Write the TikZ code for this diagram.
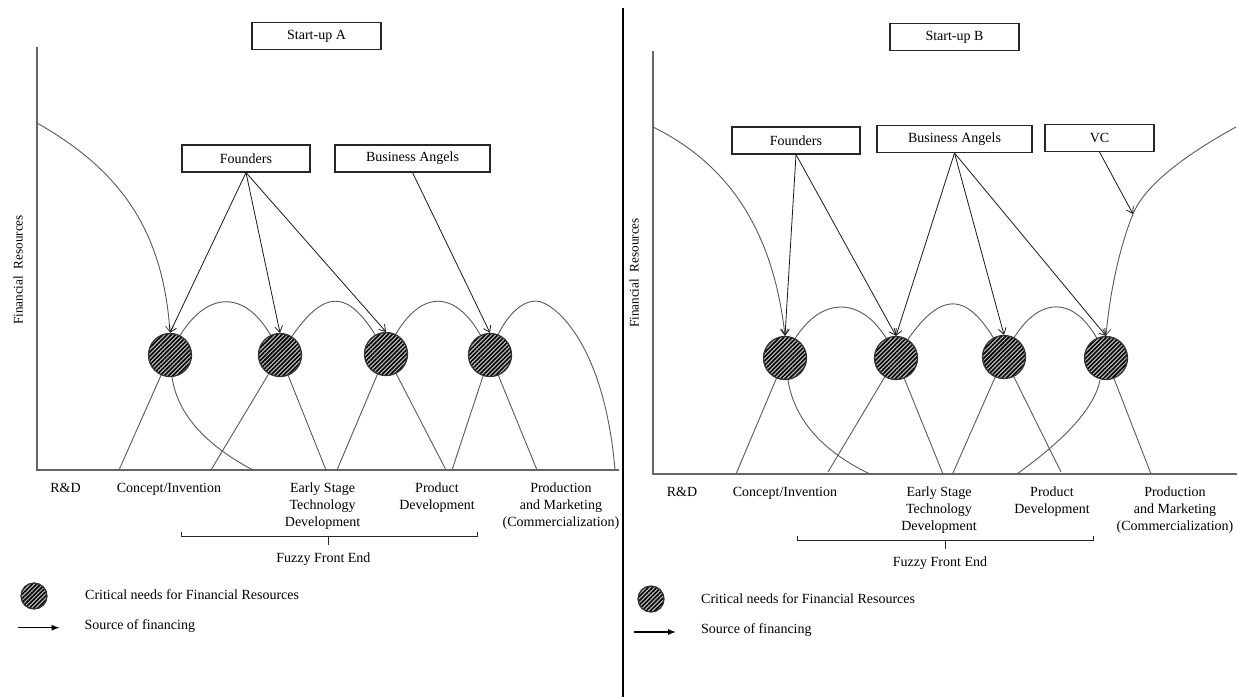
\documentclass[tikz,border=0pt]{standalone}
\usepackage{fontspec}
\setmainfont{Liberation Serif}
\usetikzlibrary{arrows.meta,patterns.meta}
\begin{document}
\begin{tikzpicture}[x=1pt,y=-1pt,
  every node/.style={font=\fontsize{14}{17}\selectfont},
  box/.style={draw=black!85, line width=1.1pt, inner sep=0pt, minimum height=27pt},
  need/.style={circle, draw=black!80, line width=1.3pt, inner sep=0pt, minimum size=43pt,
    preaction={fill=black!25}, pattern={Lines[angle=45,distance=3pt,line width=1.6pt]}},
  smallneed/.style={need, minimum size=26pt},
  curve/.style={draw=black!65, line width=0.9pt},
  src/.style={draw=black!90, line width=0.8pt, -{Straight Barb[length=6pt,width=8pt]}},
  curvesrc/.style={curve, -{Straight Barb[length=6pt,width=8pt]}},
  axis/.style={draw=black!60, line width=1.3pt},
  lbl/.style={anchor=north, inner sep=0pt, align=center},
  legtext/.style={anchor=west, inner sep=0pt},
  legarrow/.style={draw=black, line width=1.2pt, -{Latex[length=8pt,width=6pt]}},
  ylab/.style={rotate=90, inner sep=0pt, font=\fontsize{13.2}{16}\selectfont},
]
\useasboundingbox (0,0) rectangle (1237,697);

% divider
\coordinate (dtop) at (623,8);
\coordinate (dbot) at (623,697);
\draw[black, line width=1.5pt] (dtop) -- (dbot);

% ================= LEFT PANEL =================
\coordinate (oA) at (37,470);
\coordinate (yA) at (37,47);
\coordinate (xA) at (619,470);
\draw[axis] (yA) -- (oA) -- (xA);

\node[box, minimum width=129pt] (startA) at (316.5,36) {Start-up A};
\node[box, minimum width=128pt] (foundA) at (246,158.5) {Founders};
\node[box, minimum width=155pt] (angelsA) at (412.5,158.5) {Business Angels};
\node[ylab] (finA) at (18,270) {Financial\ \ Resources};

% curves (drawn beneath circles)
\draw[curve] (119,470) -- (170,355) .. controls (201,284) and (252,284) .. (280,355) -- (326,470);
\draw[curve] (211,470) -- (280,355) .. controls (322.6,284) and (349,283) .. (386,354) -- (446,470);
\draw[curve] (337,470) -- (386,354) .. controls (416,283) and (461,284) .. (490,355) -- (537,470);
\draw[curve] (452,470) -- (490,355) .. controls (503,315) and (522,301) .. (536,301)
   .. controls (552,301) and (604,340) .. (615,470);
\draw[curve] (172,377) .. controls (178,420) and (215,450) .. (253,470);

\node[need] (cA1) at (170,355) {};
\node[need] (cA2) at (280,355) {};
\node[need] (cA3) at (386,354) {};
\node[need] (cA4) at (490,355) {};

\draw[curvesrc] (37,123) .. controls (120,170) and (163,230) .. (cA1.north);
\draw[src] (foundA.south) -- (cA1.north);
\draw[src] (foundA.south) -- (cA2.north);
\draw[src] (foundA.south) -- (cA3.north);
\draw[src] (angelsA.south) -- (cA4.north);

% labels
\node[lbl] (rdA) at (65.5,483) {R\&D};
\node[lbl] (conceptA) at (169,483) {Concept/Invention};
\node[lbl] (earlyA) at (322.6,483) {Early Stage\\Technology\\Development};
\node[lbl] (prodA) at (437,483) {Product\\Development};
\node[lbl] (commA) at (561,483) {Production\\and Marketing\\(Commercialization)};
\coordinate (bA1) at (181,532);
\coordinate (bA2) at (181,536.5);
\coordinate (bA3) at (477,536.5);
\coordinate (bA4) at (477,532);
\coordinate (bAm) at (328.6,536.5);
\coordinate (bAt) at (328.6,545);
\draw[black!85, line width=1pt] (bA1) -- (bA2) -- (bA3) -- (bA4);
\draw[black!85, line width=1pt] (bAm) -- (bAt);
\node[lbl] (fuzzyA) at (323.4,553) {Fuzzy Front End};

% legend
\node[smallneed] (legcA) at (34,596) {};
\node[legtext] (legtA) at (85,595) {Critical needs for Financial Resources};
\coordinate (laA1) at (18,627.7);
\coordinate (laA2) at (59.5,627.7);
\draw[legarrow] (laA1) -- (laA2);
\node[legtext] (legsA) at (84.4,626) {Source of financing};

% ================= RIGHT PANEL =================
\coordinate (oB) at (653,474);
\coordinate (yB) at (653,51);
\coordinate (xB) at (1237,474);
\draw[axis] (yB) -- (oB) -- (xB);

\node[box, minimum width=129pt] (startB) at (954.5,37) {Start-up B};
\node[box, minimum width=128pt] (foundB) at (796,140.5) {Founders};
\node[box, minimum width=155pt] (angelsB) at (954.5,139) {Business Angels};
\node[box, minimum width=109pt] (vcB) at (1099.5,138) {VC};
\node[ylab] (finB) at (634,273) {Financial\ \ Resources};

\draw[curve] (736,474) -- (785,358) .. controls (814,290) and (868.5,290) .. (896,358) -- (943,474);
\draw[curve] (828,472) -- (896,358) .. controls (939,286) and (968,286) .. (1004,357) -- (1061,472);
\draw[curve] (952.5,474) -- (1004,357) .. controls (1033.5,290) and (1080,290) .. (1106,358) -- (1151,474);
\draw[curve] (788,380) .. controls (795,425) and (830,455) .. (870,474);
\draw[curve] (1100,380) .. controls (1093,415) and (1050,450) .. (1017,474);

\node[need] (cB1) at (785,358) {};
\node[need] (cB2) at (896,358) {};
\node[need] (cB3) at (1004,357) {};
\node[need] (cB4) at (1106,358) {};

\coordinate (vchit) at (1133,214);
\draw[curvesrc] (653,127) .. controls (720,160) and (772,220) .. (cB1.north);
\draw[curve] (1236,127) .. controls (1185,155) and (1145,185) .. (vchit);
\draw[curvesrc] (vchit) .. controls (1120.6,244) and (1110,290) .. (cB4.north);
\draw[src] (foundB.south) -- (cB1.north);
\draw[src] (foundB.south) -- (cB2.north);
\draw[src] (angelsB.south) -- (cB2.north);
\draw[src] (angelsB.south) -- (cB3.north);
\draw[src] (angelsB.south) -- (cB4.north);
\draw[src] (vcB.south) -- (vchit);

\node[lbl] (rdB) at (682,487) {R\&D};
\node[lbl] (conceptB) at (785,487) {Concept/Invention};
\node[lbl] (earlyB) at (939,487) {Early Stage\\Technology\\Development};
\node[lbl] (prodB) at (1052,487) {Product\\Development};
\node[lbl] (commB) at (1175,487) {Production\\and Marketing\\(Commercialization)};
\coordinate (bB1) at (797,536);
\coordinate (bB2) at (797,540);
\coordinate (bB3) at (1093,540);
\coordinate (bB4) at (1093,536);
\coordinate (bBm) at (945,540);
\coordinate (bBt) at (945,549);
\draw[black!85, line width=1pt] (bB1) -- (bB2) -- (bB3) -- (bB4);
\draw[black!85, line width=1pt] (bBm) -- (bBt);
\node[lbl] (fuzzyB) at (940,557) {Fuzzy Front End};

\node[smallneed] (legcB) at (651,599) {};
\node[legtext] (legtB) at (701,599) {Critical needs for Financial Resources};
\coordinate (laB1) at (634,632);
\coordinate (laB2) at (676,632);
\draw[legarrow] (laB1) -- (laB2);
\node[legtext] (legsB) at (701,630) {Source of financing};
\end{tikzpicture}
\end{document}
